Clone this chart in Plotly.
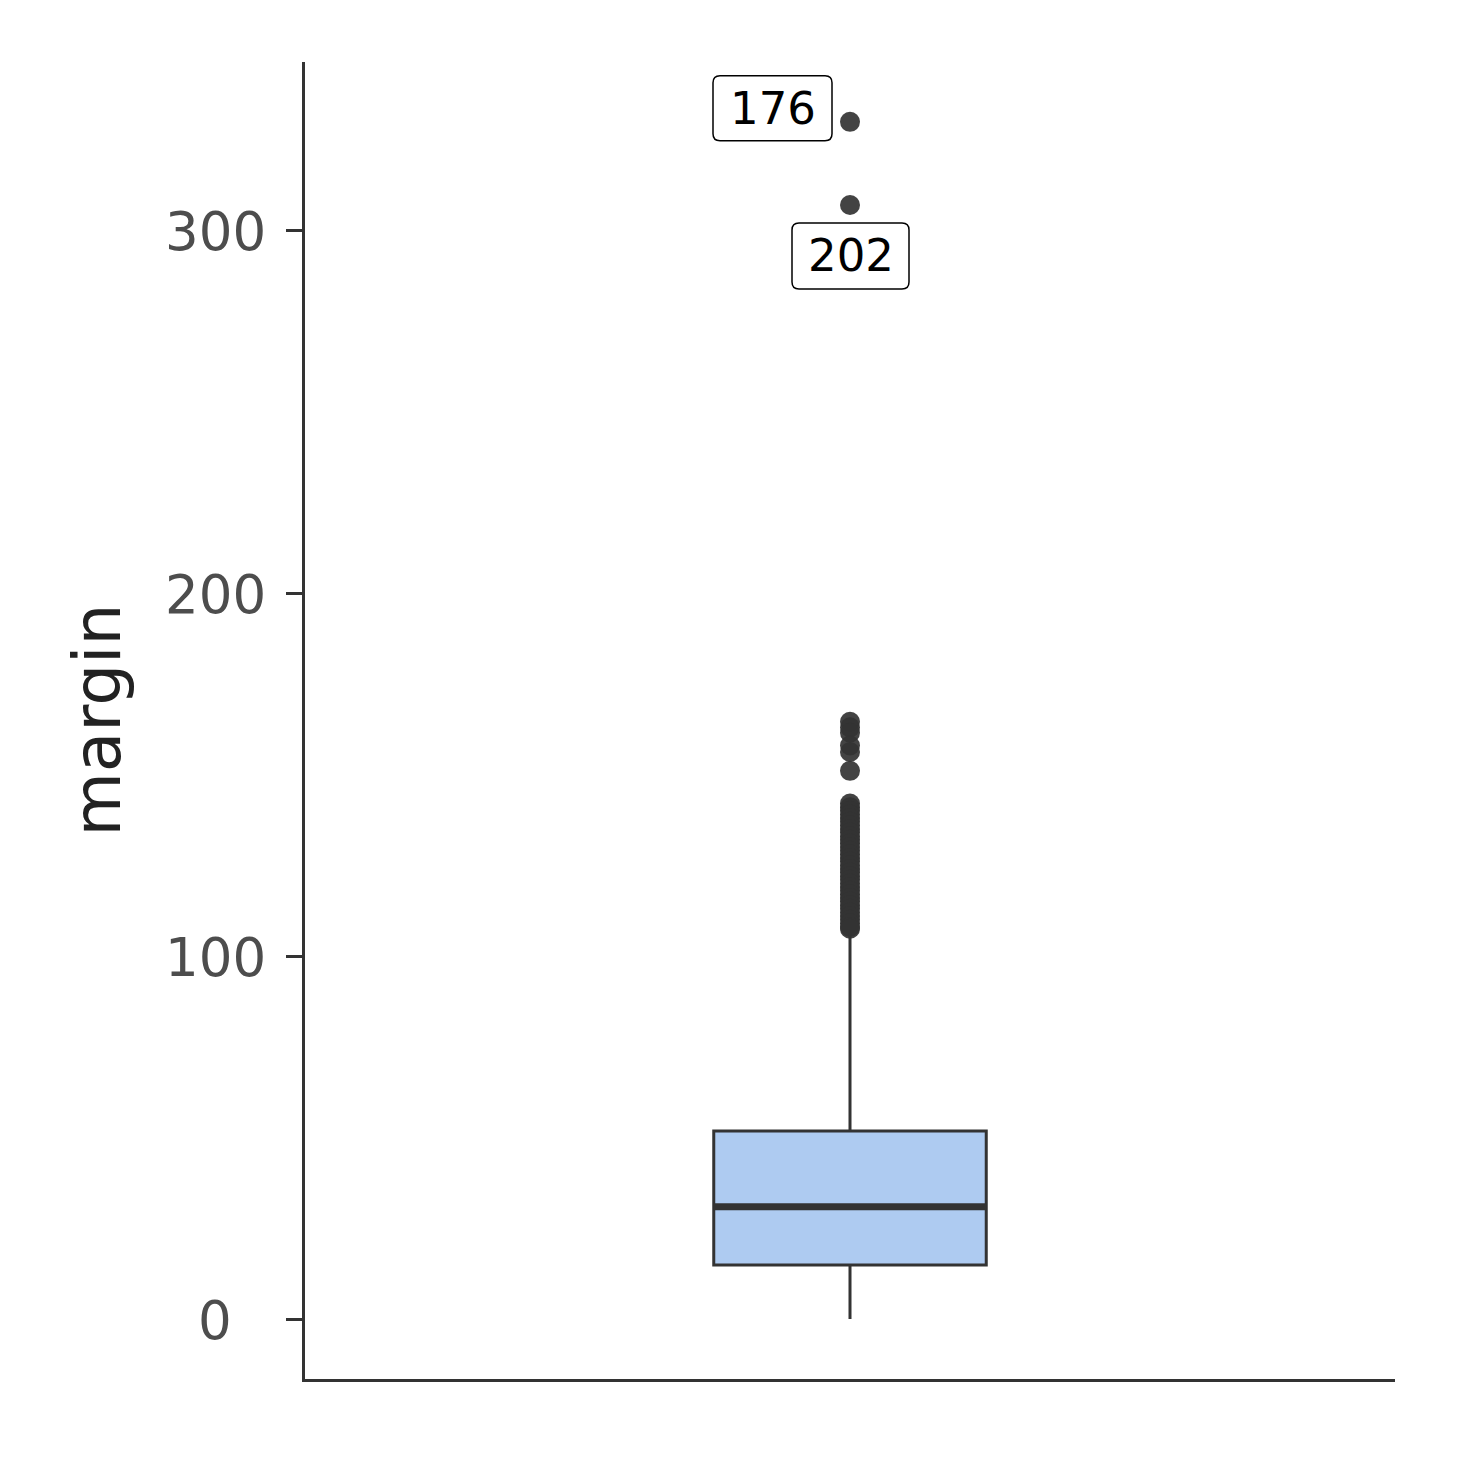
import plotly.graph_objects as go

# ---- data ----
group = [1]
q1 = [14.9]
median = [30.9]
q3 = [51.8]
lower_fence = [0.0]
upper_fence = [106.5]

outlier_values = [329.8, 306.9, 164.5, 163.0, 161.5, 158.0, 156.2, 151.0,
                  142.0, 141.0, 140.0, 139.0, 138.0, 137.0, 136.0, 135.0,
                  134.0, 133.0, 132.0, 131.0, 130.0, 129.0, 128.0, 127.0,
                  126.0, 125.0, 124.0, 123.0, 122.0, 121.0, 120.0, 119.0,
                  118.0, 117.0, 116.0, 115.0, 114.0, 113.0, 112.0, 111.0,
                  110.0, 109.0, 108.0, 107.5]
labelled_values = [329.8, 306.9]
labelled_ids = ["176", "202"]

y_ticks = [0, 100, 200, 300]
y_title = "margin"

# ---- figure ----
fig = go.Figure()

fig.add_trace(go.Box(
    x=group, q1=q1, median=median, q3=q3,
    lowerfence=lower_fence, upperfence=upper_fence,
    width=0.3, whiskerwidth=0,
    fillcolor="#aecbf1",
    line=dict(color="#333333", width=3),
    boxpoints=False, showlegend=False, hoverinfo="skip",
))

# thicker median line
fig.add_trace(go.Scatter(
    x=[group[0] - 0.15, group[0] + 0.15], y=[median[0], median[0]],
    mode="lines", line=dict(color="#333333", width=7),
    showlegend=False, hoverinfo="skip",
))

fig.add_trace(go.Scatter(
    x=group * len(outlier_values), y=outlier_values,
    mode="markers",
    marker=dict(color="rgba(51,51,51,0.92)", size=20, line=dict(width=0)),
    showlegend=False,
))


def rounded_rect(x0, x1, y0, y1, r):
    # pixel-space path (y up), relative to anchor point
    return (f"M {x0+r},{y0} L {x1-r},{y0} Q {x1},{y0} {x1},{y0+r} "
            f"L {x1},{y1-r} Q {x1},{y1} {x1-r},{y1} "
            f"L {x0+r},{y1} Q {x0},{y1} {x0},{y1-r} "
            f"L {x0},{y0+r} Q {x0},{y0} {x0+r},{y0} Z")


# label boxes: (left, right, bottom, top) in pixels relative to the point
label_boxes = [(-137, -18, -19, 46), (-58, 59, -84, -18)]
for val, lab, (bx0, bx1, by0, by1) in zip(labelled_values, labelled_ids, label_boxes):
    fig.add_shape(
        type="path", xref="x", yref="y",
        xsizemode="pixel", ysizemode="pixel",
        xanchor=group[0], yanchor=val,
        path=rounded_rect(bx0, bx1, by0, by1, 7),
        fillcolor="white", line=dict(color="#000000", width=1.5),
    )
    fig.add_annotation(
        x=group[0], y=val, xref="x", yref="y", text=lab,
        showarrow=False, xshift=(bx0 + bx1) / 2, yshift=(by0 + by1) / 2,
        xanchor="center", yanchor="middle",
        font=dict(family="DejaVu Sans", size=45, color="#000000"),
    )

# centred tick labels (ggplot style)
for v in y_ticks:
    fig.add_annotation(
        x=0, y=v, xref="paper", yref="y", text=str(v),
        showarrow=False, xanchor="center", yanchor="middle",
        xshift=-90, yshift=-1,
        font=dict(family="DejaVu Sans", size=53, color="#4d4d4d"),
    )

fig.add_annotation(
    x=0, y=0.5, xref="paper", yref="paper", text=y_title,
    showarrow=False, textangle=-90, xanchor="center", yanchor="middle",
    xshift=-208,
    font=dict(family="DejaVu Sans", size=66, color="#222222"),
)

fig.update_layout(
    width=1450, height=1450,
    margin=dict(l=297, r=63, t=54, b=79),
    paper_bgcolor="white", plot_bgcolor="white",
    font=dict(family="DejaVu Sans"),
    xaxis=dict(
        range=[0.4, 1.6], showgrid=False, zeroline=False,
        showticklabels=False, ticks="",
        showline=True, linecolor="#333333", linewidth=3,
    ),
    yaxis=dict(
        range=[-16.53, 346.28], showgrid=False, zeroline=False,
        tickvals=y_ticks, showticklabels=False,
        ticks="outside", ticklen=16, tickwidth=3, tickcolor="#333333",
        showline=True, linecolor="#333333", linewidth=3,
    ),
)

fig.write_html("out.html")
